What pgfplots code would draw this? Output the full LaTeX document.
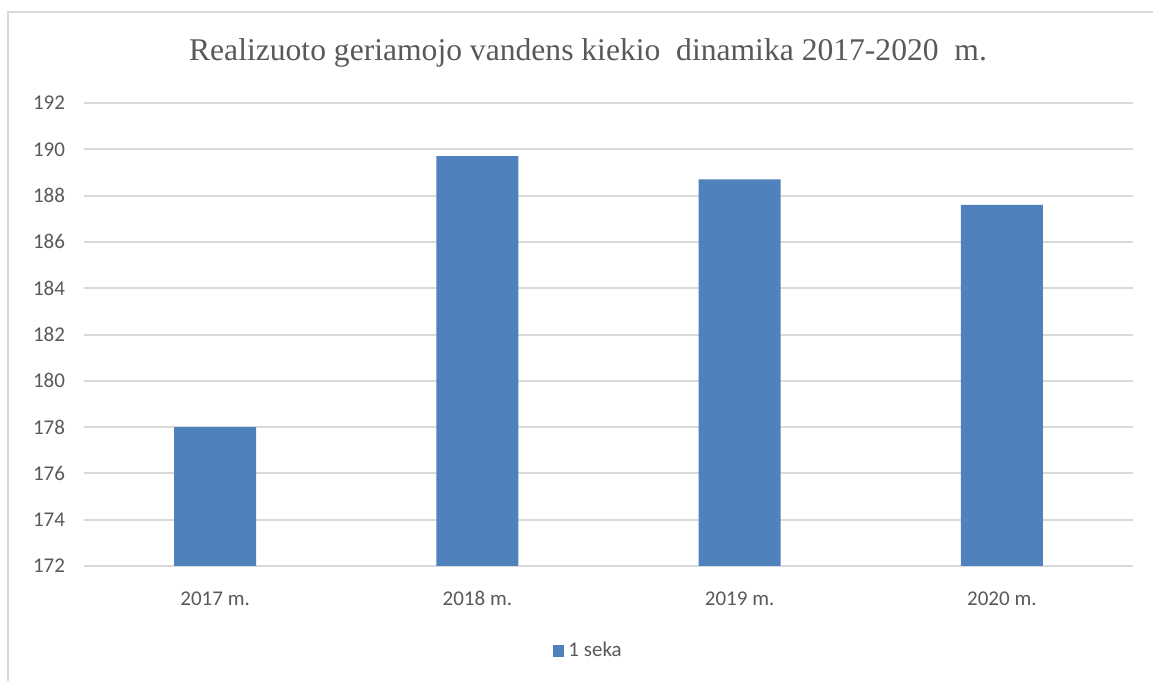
\documentclass[border=0pt]{standalone}
\usepackage{fontspec}
\setmainfont{Liberation Serif}
\newfontfamily\carlito{Carlito}
\usepackage{pgfplots}
\pgfplotsset{compat=1.18}
\definecolor{barblue}{HTML}{4F81BD}
\definecolor{gridgrey}{HTML}{D9D9D9}
\definecolor{txtgrey}{HTML}{595959}
\begin{document}
\begin{tikzpicture}
\useasboundingbox (0pt,0pt) rectangle (576.5pt,340.5pt);
\fill[white] (0pt,0pt) rectangle (576.5pt,340.5pt);
\draw[gridgrey, line width=1pt] (4pt,0pt) -- (4pt,334.5pt) -- (576.5pt,334.5pt);
\node[font=\fontsize{15.8}{18}\selectfont, text=txtgrey] at (294pt,314pt) {Realizuoto geriamojo vandens kiekio\ \ dinamika 2017-2020\ \ m.};
\begin{axis}[
  at={(42pt,57.5pt)}, anchor=south west,
  scale only axis, width=524.5pt, height=231.5pt,
  xmin=-0.5, xmax=3.5, ymin=172, ymax=192,
  ytick={172,174,...,192},
  xtick={0,1,2,3},
  xticklabels={2017 m.,2018 m.,2019 m.,2020 m.},
  axis line style={draw=none},
  major tick length=0pt,
  ymajorgrids, grid style={gridgrey, line width=1pt},
  /pgf/number format/assume math mode=true,
  ticklabel style={font=\carlito\fontsize{10.5}{12}\selectfont, text=txtgrey},
  xticklabel style={yshift=-9pt, text height=1.6ex, text depth=0.3ex},
  yticklabel style={xshift=-6pt},
  legend style={at={(0.482,-0.184)}, anchor=center, draw=none, fill=none,
    font=\carlito\fontsize{10.5}{12}\selectfont, text=txtgrey,
    legend cell align=left},
  legend image code/.code={\fill[barblue] (0pt,-3pt) rectangle (5.5pt,3pt);},
]
\addplot[ybar, bar width=41pt, fill=barblue, draw=none] coordinates {(0,178.0) (1,189.7) (2,188.7) (3,187.6)};
\addlegendentry{1 seka}
\end{axis}
\end{tikzpicture}
\end{document}
